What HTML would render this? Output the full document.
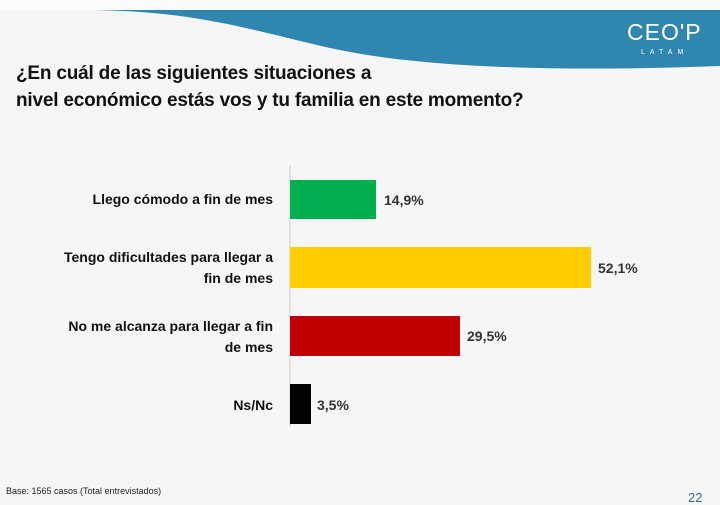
<!DOCTYPE html>
<html><head><meta charset="utf-8"><style>
body{margin:0;width:720px;height:503px;background:#f6f6f6;overflow:hidden;font-family:"Liberation Sans",sans-serif;position:relative}
.t{position:absolute;left:16px;font-size:19px;font-weight:bold;color:#111;letter-spacing:-0.2px}
.l{position:absolute;font-size:14px;font-weight:bold;color:#111;text-align:right;right:447px;line-height:21px}
.v{position:absolute;font-size:14px;font-weight:bold;color:#333}
.b{position:absolute;left:290px}
</style></head><body>
<svg width="720" height="503" style="position:absolute;left:0;top:0">
<rect x="0" y="0" width="720" height="10" fill="#fbfbfb"/>
<path d="M95,10 C200,12 250,30 330,48 C420,68 560,72 720,66 L720,10 Z" fill="#2f86ae"/>
<line x1="290" y1="165" x2="290" y2="427" stroke="#cfcfcf" stroke-width="1"/>
</svg>
<div style="position:absolute;left:627px;top:19px;color:#fff;font-size:23px;letter-spacing:1px">CEO'P</div>
<div style="position:absolute;left:641px;top:49px;color:#fff;font-size:7px;letter-spacing:5px">LATAM</div>
<div class="t" style="top:63px">¿En cuál de las siguientes situaciones a</div>
<div class="t" style="top:90px">nivel económico estás vos y tu familia en este momento?</div>
<div class="l" style="top:189px">Llego cómodo a fin de mes</div>
<div class="l" style="top:247px">Tengo dificultades para llegar a<br>fin de mes</div>
<div class="l" style="top:316px">No me alcanza para llegar a fin<br>de mes</div>
<div class="l" style="top:395px">Ns/Nc</div>
<div class="b" style="top:180px;width:86px;height:39px;background:#00b050"></div>
<div class="b" style="top:247px;width:301px;height:41px;background:#ffcc00"></div>
<div class="b" style="top:316px;width:170px;height:40px;background:#c00000"></div>
<div class="b" style="top:384px;width:21px;height:40px;background:#000"></div>
<div class="v" style="left:384px;top:192px">14,9%</div>
<div class="v" style="left:598px;top:260px">52,1%</div>
<div class="v" style="left:467px;top:328px">29,5%</div>
<div class="v" style="left:317px;top:397px">3,5%</div>
<div style="position:absolute;left:6px;top:486px;font-size:9px;color:#222">Base: 1565 casos (Total entrevistados)</div>
<div style="position:absolute;left:688px;top:490px;font-size:13px;color:#2f6f8e">22</div>
</body></html>
